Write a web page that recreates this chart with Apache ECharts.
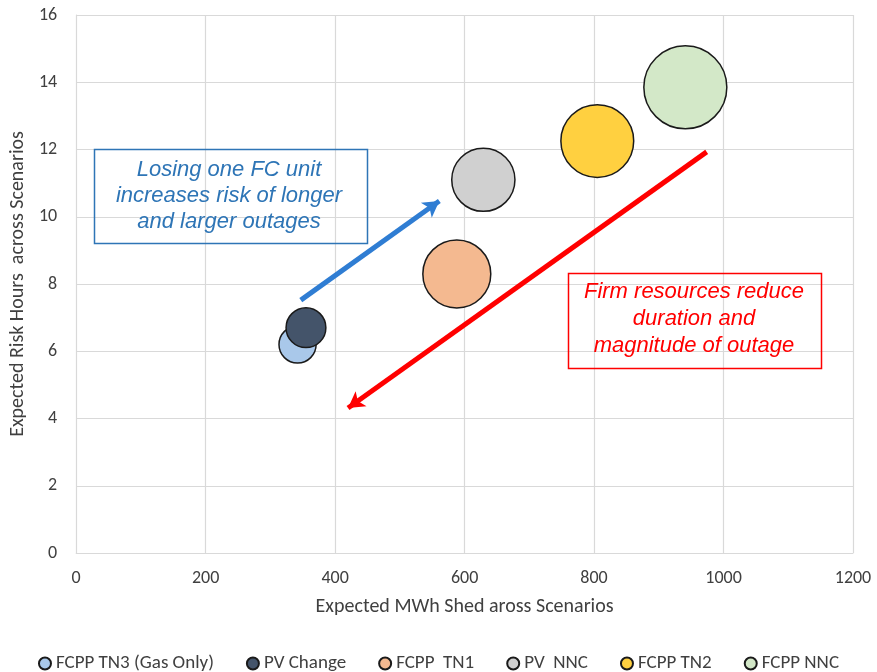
<!DOCTYPE html>
<html>
<head>
<meta charset="utf-8">
<script src="https://cdn.jsdelivr.net/npm/echarts@6/dist/echarts.min.js"></script>
<style>
  html, body { margin: 0; padding: 0; background: #fff; }
  #chart { width: 877px; height: 672px; }
</style>
</head>
<body>
<div id="chart"></div>
<script>
// 数据
var seriesNames = ["FCPP TN3 (Gas Only)", "PV Change", "FCPP  TN1", "PV  NNC", "FCPP TN2", "FCPP NNC"];
var mwhShed = [342, 355, 588, 629, 805, 941];
var riskHours = [6.2, 6.7, 8.3, 11.1, 12.25, 13.85];
var bubbleValues = [20, 23, 67, 58, 77, 100];
var bubbleColors = ["#a9c8ea", "#44546a", "#f4b990", "#d0d0d0", "#ffd040", "#d3e8c8"];
var xTicks = [0, 1200, 200];
var yTicks = [0, 16, 2];
// arrows [from, to]
var blueArrow = [[347, 7.52], [561, 10.47]];
var redArrow = [[974, 11.93], [420, 4.31]];

var font = 'Carlito, Lato, sans-serif';
var maxBubble = Math.max.apply(null, bubbleValues);

var myChart = echarts.init(document.getElementById("chart"));

var series = seriesNames.map(function (name, i) {
  return {
    name: name,
    type: "scatter",
    data: [[mwhShed[i], riskHours[i], bubbleValues[i]]],
    symbolSize: function (v) {
      return 83 * Math.sqrt(v[2] / maxBubble);
    },
    itemStyle: {
      color: bubbleColors[i],
      opacity: 1,
      borderColor: "#1a1a1a",
      borderWidth: 1.5
    },
    z: 3 + i
  };
});

// 箭头
function arrow(pts, color) {
  return {
    type: "line",
    data: [],
    silent: true,
    z: 20,
    markLine: {
      silent: true,
      animation: false,
      label: { show: false },
      symbol: ["none", "arrow"],
      symbolSize: [14, 16],
      lineStyle: { color: color, width: 5, type: "solid" },
      emphasis: { disabled: true },
      data: [[{ coord: pts[0] }, { coord: pts[1] }]]
    }
  };
}
series.push(arrow(blueArrow, "#2f7dd3"));
series.push(arrow(redArrow, "#ff0000"));

var option = {
  animation: false,
  grid: { left: 74, right: 24, top: 15, bottom: 119 },
  legend: {
    data: seriesNames,
    top: 649,
    left: "center",
    icon: "circle",
    itemWidth: 12,
    itemHeight: 12,
    itemGap: 32,
    textStyle: { fontFamily: font, fontSize: 19, color: "#404040" }
  },
  xAxis: {
    type: "value",
    min: xTicks[0],
    max: xTicks[1],
    interval: xTicks[2],
    name: "Expected MWh Shed aross Scenarios",
    nameLocation: "middle",
    nameGap: 44,
    nameTextStyle: { fontFamily: font, fontSize: 20, color: "#404040" },
    axisLine: { lineStyle: { color: "#d9d9d9", width: 1 } },
    axisTick: { show: false },
    axisLabel: {
      fontFamily: font, fontSize: 18, color: "#404040", margin: 16,
      formatter: function (v) { return String(v); }
    },
    splitLine: { lineStyle: { color: "#d9d9d9", width: 1.2 } }
  },
  yAxis: {
    type: "value",
    min: yTicks[0],
    max: yTicks[1],
    interval: yTicks[2],
    name: "Expected Risk Hours  across Scenarios",
    nameLocation: "middle",
    nameGap: 44,
    nameTextStyle: { fontFamily: font, fontSize: 20, color: "#404040" },
    axisLine: { show: true, lineStyle: { color: "#d9d9d9", width: 1 } },
    axisTick: { show: false },
    axisLabel: { fontFamily: font, fontSize: 18, color: "#404040", margin: 19 },
    splitLine: { lineStyle: { color: "#d9d9d9", width: 1.2 } }
  },
  graphic: [
    {
      type: "rect",
      left: 92, top: 147,
      shape: { width: 273, height: 94 },
      style: { fill: "none", stroke: "#2e75b6", lineWidth: 1.5 },
      z: 30
    },
    {
      type: "text",
      x: 229, y: 196,
      style: {
        text: "Losing one FC unit\nincreases risk of longer\nand larger outages",
        fill: "#2e75b6",
        font: 'italic 22px "Liberation Sans", Arial, sans-serif',
        align: "center",
        verticalAlign: "middle",
        lineHeight: 26
      },
      z: 30
    },
    {
      type: "rect",
      left: 566, top: 271,
      shape: { width: 253, height: 95 },
      style: { fill: "none", stroke: "#ff0000", lineWidth: 1.5 },
      z: 30
    },
    {
      type: "text",
      x: 694, y: 319,
      style: {
        text: "Firm resources reduce\nduration and\nmagnitude of outage",
        fill: "#ff0000",
        font: 'italic 22px "Liberation Sans", Arial, sans-serif',
        align: "center",
        verticalAlign: "middle",
        lineHeight: 27
      },
      z: 30
    }
  ],
  series: series
};

myChart.setOption(option);
window.addEventListener("resize", function () {
  myChart.resize();
});
</script>
</body>
</html>
